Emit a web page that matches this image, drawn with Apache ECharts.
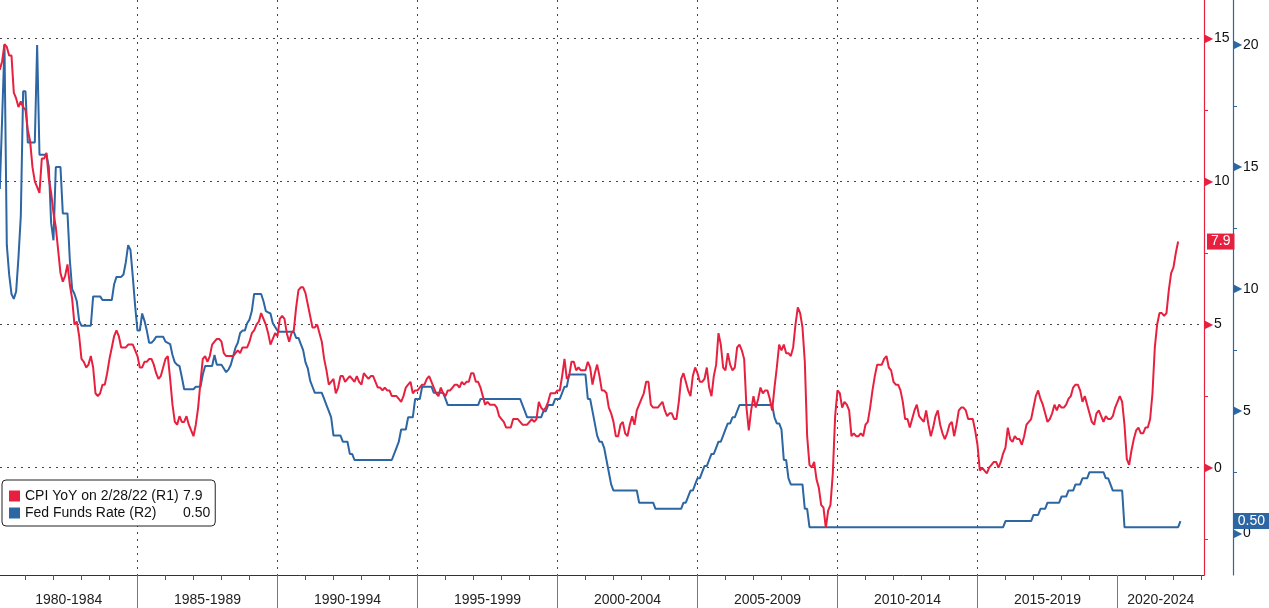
<!DOCTYPE html>
<html><head><meta charset="utf-8">
<script src="https://cdn.jsdelivr.net/npm/echarts@6/dist/echarts.min.js"></script>
<style>html,body{margin:0;padding:0;background:#fff}#c{width:1269px;height:608px}</style>
</head><body><div id="c"></div>
<script>
// ---- data (monthly, month-end, starting Jan 1980) ----
const startYear = 1980;
const cpiName = 'CPI YoY on 2/28/22 (R1)';
const fedName = 'Fed Funds Rate (R2)';
const cpiYoY = [
 13.9,14.2,14.8,14.7,14.4,14.4,13.1,12.9,12.6,12.8,12.6,12.5,
 11.8,11.4,10.5,10.0,9.8,9.6,10.8,10.8,11.0,10.1,9.6,8.9,
 8.4,7.6,6.8,6.5,6.7,7.1,6.4,5.9,5.0,5.1,4.6,3.8,
 3.7,3.5,3.6,3.9,3.5,2.6,2.5,2.6,2.9,2.9,3.3,3.8,
 4.2,4.6,4.8,4.6,4.2,4.2,4.2,4.3,4.3,4.3,4.1,3.9,
 3.5,3.5,3.7,3.7,3.8,3.8,3.6,3.3,3.1,3.2,3.5,3.8,
 3.9,3.1,2.2,1.6,1.5,1.8,1.6,1.6,1.8,1.5,1.3,1.1,
 1.5,2.1,3.0,3.8,3.9,3.7,3.9,4.3,4.4,4.5,4.5,4.4,
 4.0,3.9,3.9,3.9,3.9,4.0,4.1,4.0,4.2,4.2,4.2,4.4,
 4.7,4.8,5.0,5.1,5.4,5.2,5.0,4.7,4.3,4.5,4.7,4.6,
 5.2,5.3,5.2,4.7,4.4,4.7,4.8,5.6,6.2,6.3,6.3,6.1,
 5.7,5.3,4.9,4.9,5.0,4.7,4.4,3.8,3.4,2.9,3.0,3.1,
 2.6,2.8,3.2,3.2,3.0,3.1,3.2,3.1,3.0,3.2,3.0,2.9,
 3.3,3.2,3.1,3.2,3.2,3.0,2.8,2.8,2.7,2.8,2.7,2.7,
 2.5,2.5,2.5,2.4,2.3,2.5,2.8,2.9,3.0,2.6,2.7,2.7,
 2.8,2.9,2.9,3.1,3.2,3.0,2.8,2.6,2.5,2.8,2.6,2.5,
 2.7,2.7,2.8,2.9,2.9,2.8,3.0,2.9,3.0,3.0,3.3,3.3,
 3.0,3.0,2.8,2.5,2.2,2.3,2.2,2.2,2.2,2.1,1.8,1.7,
 1.6,1.4,1.4,1.4,1.7,1.7,1.7,1.6,1.5,1.5,1.5,1.6,
 1.7,1.6,1.7,2.3,2.1,2.0,2.1,2.3,2.6,2.6,2.6,2.7,
 2.7,3.2,3.8,3.1,3.2,3.7,3.7,3.4,3.5,3.4,3.4,3.4,
 3.7,3.5,2.9,3.3,3.6,3.2,2.7,2.7,2.6,2.1,1.9,1.6,
 1.1,1.1,1.5,1.6,1.2,1.1,1.5,1.8,1.5,2.0,2.2,2.4,
 2.6,3.0,3.0,2.2,2.1,2.1,2.1,2.2,2.3,2.0,1.8,1.9,
 1.9,1.7,1.7,2.3,3.1,3.3,3.0,2.7,2.5,3.2,3.5,3.3,
 3.0,3.0,3.1,3.5,2.8,2.5,3.2,3.6,4.7,4.3,3.5,3.4,
 4.0,3.6,3.4,3.5,4.2,4.3,4.1,3.8,2.1,1.3,2.0,2.5,
 2.1,2.4,2.8,2.6,2.7,2.7,2.4,2.0,2.8,3.5,4.3,4.1,
 4.3,4.0,4.0,3.9,4.2,5.0,5.6,5.4,4.9,3.7,1.1,0.1,
 0.0,0.2,-0.4,-0.7,-1.3,-1.4,-2.1,-1.5,-1.3,-0.2,1.8,2.7,
 2.6,2.1,2.3,2.2,2.0,1.1,1.2,1.1,1.1,1.2,1.1,1.5,
 1.6,2.1,2.7,3.2,3.6,3.6,3.6,3.8,3.9,3.5,3.4,3.0,
 2.9,2.9,2.7,2.3,1.7,1.7,1.4,1.7,2.0,2.2,1.8,1.7,
 1.6,2.0,1.5,1.1,1.4,1.8,2.0,1.5,1.2,1.0,1.2,1.5,
 1.6,1.1,1.5,2.0,2.1,2.1,2.0,1.7,1.7,1.7,1.3,0.8,
 -0.1,0.0,-0.1,-0.2,0.0,0.1,0.2,0.2,0.0,0.2,0.5,0.7,
 1.4,1.0,0.9,1.1,1.0,1.0,0.8,1.1,1.5,1.6,1.7,2.1,
 2.5,2.7,2.4,2.2,1.9,1.6,1.7,1.9,2.2,2.0,2.2,2.1,
 2.1,2.2,2.4,2.5,2.8,2.9,2.9,2.7,2.3,2.5,2.2,1.9,
 1.6,1.5,1.9,2.0,1.8,1.6,1.8,1.7,1.7,1.8,2.1,2.3,
 2.5,2.3,1.5,0.3,0.1,0.6,1.0,1.3,1.4,1.2,1.2,1.4,
 1.4,1.7,2.6,4.2,5.0,5.4,5.4,5.3,5.4,6.2,6.8,7.0,
 7.5,7.9
];
const fedFunds = [
 14.1,17.0,20.0,11.8,10.6,9.8,9.6,9.9,11.3,13.0,18.1,18.1,
 16.0,16.0,16.0,16.0,20.0,15.5,15.5,15.5,15.5,15.0,12.7,12.0,
 15.0,15.0,15.0,13.1,13.1,13.1,11.2,10.0,9.8,9.5,8.7,8.5,
 8.5,8.5,8.5,8.5,9.7,9.7,9.7,9.7,9.55,9.55,9.55,9.55,
 9.55,10.2,10.5,10.5,10.5,10.6,11.1,11.8,11.6,10.5,9.3,8.3,
 8.3,9.0,8.7,8.3,7.8,7.8,7.9,8.05,8.05,8.05,8.05,7.85,
 7.8,7.75,7.3,7.0,6.9,6.85,6.4,5.9,5.9,5.9,5.9,5.9,
 6.0,6.0,6.0,6.5,6.85,6.85,6.85,6.85,7.3,6.9,6.9,6.9,
 6.75,6.6,6.7,6.9,7.25,7.6,7.8,8.2,8.3,8.3,8.6,8.75,
 9.1,9.8,9.8,9.8,9.8,9.5,9.1,9.05,9.0,8.6,8.45,8.3,
 8.25,8.25,8.25,8.25,8.25,8.25,8.25,8.0,8.0,7.75,7.5,7.0,
 6.75,6.25,6.0,5.75,5.75,5.75,5.75,5.5,5.25,5.0,4.75,4.0,
 4.0,4.0,4.0,3.75,3.75,3.75,3.25,3.25,3.0,3.0,3.0,3.0,
 3.0,3.0,3.0,3.0,3.0,3.0,3.0,3.0,3.0,3.0,3.0,3.0,
 3.0,3.25,3.5,3.75,4.25,4.25,4.25,4.75,4.75,4.75,5.5,5.5,
 5.5,6.0,6.0,6.0,6.0,6.0,5.75,5.75,5.75,5.75,5.75,5.5,
 5.25,5.25,5.25,5.25,5.25,5.25,5.25,5.25,5.25,5.25,5.25,5.25,
 5.25,5.25,5.5,5.5,5.5,5.5,5.5,5.5,5.5,5.5,5.5,5.5,
 5.5,5.5,5.5,5.5,5.5,5.5,5.5,5.5,5.25,5.0,4.75,4.75,
 4.75,4.75,4.75,4.75,4.75,5.0,5.0,5.25,5.25,5.25,5.5,5.5,
 5.5,5.75,6.0,6.0,6.5,6.5,6.5,6.5,6.5,6.5,6.5,6.5,
 5.5,5.5,5.0,4.5,4.0,3.75,3.75,3.5,3.0,2.5,2.0,1.75,
 1.75,1.75,1.75,1.75,1.75,1.75,1.75,1.75,1.75,1.75,1.25,1.25,
 1.25,1.25,1.25,1.25,1.25,1.0,1.0,1.0,1.0,1.0,1.0,1.0,
 1.0,1.0,1.0,1.0,1.0,1.25,1.25,1.5,1.75,1.75,2.0,2.25,
 2.25,2.5,2.75,2.75,3.0,3.25,3.25,3.5,3.75,3.75,4.0,4.25,
 4.5,4.5,4.75,4.75,5.0,5.25,5.25,5.25,5.25,5.25,5.25,5.25,
 5.25,5.25,5.25,5.25,5.25,5.25,5.25,5.25,4.75,4.5,4.5,4.25,
 3.0,3.0,2.25,2.0,2.0,2.0,2.0,2.0,2.0,1.0,1.0,0.25,
 0.25,0.25,0.25,0.25,0.25,0.25,0.25,0.25,0.25,0.25,0.25,0.25,
 0.25,0.25,0.25,0.25,0.25,0.25,0.25,0.25,0.25,0.25,0.25,0.25,
 0.25,0.25,0.25,0.25,0.25,0.25,0.25,0.25,0.25,0.25,0.25,0.25,
 0.25,0.25,0.25,0.25,0.25,0.25,0.25,0.25,0.25,0.25,0.25,0.25,
 0.25,0.25,0.25,0.25,0.25,0.25,0.25,0.25,0.25,0.25,0.25,0.25,
 0.25,0.25,0.25,0.25,0.25,0.25,0.25,0.25,0.25,0.25,0.25,0.25,
 0.25,0.25,0.25,0.25,0.25,0.25,0.25,0.25,0.25,0.25,0.25,0.5,
 0.5,0.5,0.5,0.5,0.5,0.5,0.5,0.5,0.5,0.5,0.5,0.75,
 0.75,0.75,1.0,1.0,1.0,1.25,1.25,1.25,1.25,1.25,1.25,1.5,
 1.5,1.5,1.75,1.75,1.75,2.0,2.0,2.0,2.25,2.25,2.25,2.5,
 2.5,2.5,2.5,2.5,2.5,2.5,2.25,2.25,2.0,1.75,1.75,1.75,
 1.75,1.75,0.25,0.25,0.25,0.25,0.25,0.25,0.25,0.25,0.25,0.25,
 0.25,0.25,0.25,0.25,0.25,0.25,0.25,0.25,0.25,0.25,0.25,0.25,
 0.25,0.25,0.5
];
const periodStarts = [1980,1985,1990,1995,2000,2005,2010,2015,2020];
const periodTicks = [1985,1990,1995,2000,2005,2010,2015,2020];
const cpiTicks = [0,5,10,15];
const fedTicks = [0,5,10,15,20];
const cpiLast = '7.9';
const fedLast = '0.50';

// ---- layout / style ----
const RED = '#e8203f', BLUE = '#2c66a3';
const FONT = 'Liberation Sans, Arial, sans-serif';
const xMin = 1980.09, xMax = 2023.09;
const toSeries = arr => arr.map((v, i) => [startYear + (i + 1) / 12, v]);
const labelCenters = periodStarts.map(s => (Math.max(s, xMin) + Math.min(s + 5, xMax)) / 2);

const chart = echarts.init(document.getElementById('c'), null, {renderer: 'canvas'});
chart.setOption({
  animation: false,
  backgroundColor: '#fff',
  textStyle: {fontFamily: FONT},
  grid: {left: 0, right: 65, top: 0, bottom: 33},
  legend: {
    orient: 'vertical', left: 2, top: 480,
    data: [cpiName, fedName],
    icon: 'rect', itemWidth: 11, itemHeight: 11, itemGap: 3,
    backgroundColor: '#fff', borderColor: '#222', borderWidth: 1, borderRadius: 4,
    padding: [9, 5, 6, 7],
    selectedMode: false,
    formatter: name => '{n|' + name + '}{v|' + (name === cpiName ? cpiLast : fedLast) + '}',
    textStyle: {
      fontSize: 14, color: '#111', fontFamily: FONT,
      rich: {n: {width: 158, fontSize: 14, color: '#111', fontFamily: FONT},
             v: {fontSize: 14, color: '#111', fontFamily: FONT}}
    }
  },
  xAxis: {
    type: 'value', min: xMin, max: xMax, splitNumber: 8,
    axisLine: {show: true, onZero: false, lineStyle: {color: '#333', width: 1}},
    axisTick: {show: true, length: 33, customValues: periodTicks, lineStyle: {color: '#777'}},
    minorTick: {show: true, splitNumber: 5, length: 5, lineStyle: {color: '#555'}},
    splitLine: {show: true, showMinLine: true, showMaxLine: false, lineStyle: {color: '#444', type: [2, 5], width: 1}},
    axisLabel: {
      customValues: labelCenters, margin: 18, fontSize: 14, color: '#222', fontFamily: FONT,
      formatter: v => { const s = Math.floor(v / 5) * 5; return s + '-' + (s + 4); }
    }
  },
  yAxis: [{
    type: 'value', position: 'right', min: -3.75, max: 16.34, splitNumber: 4,
    axisLine: {show: true, onZero: false, lineStyle: {color: RED, width: 1.2}},
    axisTick: {show: false},
    minorTick: {show: true, splitNumber: 2, length: 4, lineStyle: {color: RED}},
    splitLine: {show: true, showMinLine: false, showMaxLine: false, lineStyle: {color: '#444', type: [2, 5], width: 1}},
    axisLabel: {
      customValues: cpiTicks, margin: 0, fontSize: 14, color: '#111', fontFamily: FONT,
      formatter: v => '{t|\u25B6}' + v,
      rich: {t: {color: RED, fontSize: 12, padding: [0, 1, 0, 0]}}
    },
    axisPointer: {
      show: true, status: 'show', value: cpiYoY[cpiYoY.length - 1], type: 'line', snap: false,
      triggerTooltip: false, lineStyle: {opacity: 0, width: 0},
      label: {show: true, formatter: () => cpiLast, backgroundColor: RED, color: '#fff',
              fontSize: 14, fontFamily: FONT, padding: [1, 4, 1, 4], margin: 3, borderRadius: 0}
    }
  }, {
    type: 'value', position: 'right', offset: 29, min: -1.71, max: 21.84, splitNumber: 5,
    axisLine: {show: true, onZero: false, lineStyle: {color: BLUE, width: 1.2}},
    axisTick: {show: false},
    minorTick: {show: true, splitNumber: 2, length: 4, lineStyle: {color: BLUE}},
    splitLine: {show: false},
    axisLabel: {
      customValues: fedTicks, margin: 0, fontSize: 14, color: '#111', fontFamily: FONT,
      formatter: v => '{t|\u25B6}' + v,
      rich: {t: {color: BLUE, fontSize: 12, padding: [0, 1, 0, 0]}}
    },
    axisPointer: {
      show: true, status: 'show', value: fedFunds[fedFunds.length - 1], type: 'line', snap: false,
      triggerTooltip: false, lineStyle: {opacity: 0, width: 0},
      label: {show: true, formatter: () => fedLast, backgroundColor: BLUE, color: '#fff',
              fontSize: 14, fontFamily: FONT, padding: [1, 4, 1, 4], margin: 3, borderRadius: 0}
    }
  }],
  series: [{
    name: fedName, type: 'line', data: toSeries(fedFunds), yAxisIndex: 1,
    showSymbol: false, symbol: 'none', z: 2,
    lineStyle: {color: BLUE, width: 2}, itemStyle: {color: BLUE}
  }, {
    name: cpiName, type: 'line', data: toSeries(cpiYoY), yAxisIndex: 0,
    showSymbol: false, symbol: 'none', z: 3,
    lineStyle: {color: RED, width: 2}, itemStyle: {color: RED}
  }]
});
</script>
</body></html>
